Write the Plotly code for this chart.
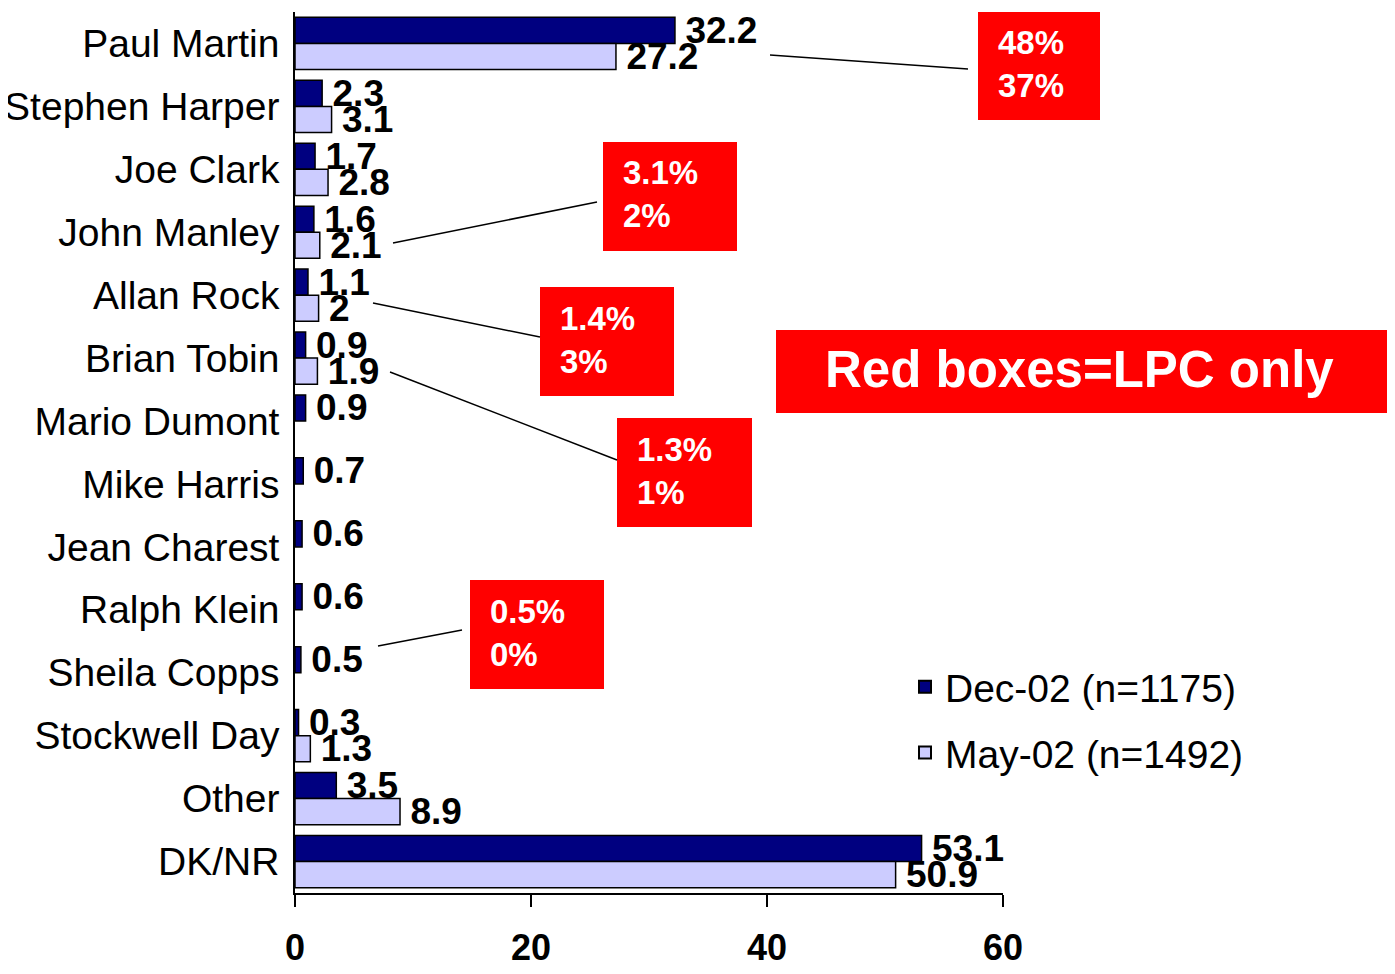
import plotly.graph_objects as go

categories = ["Paul Martin", "Stephen Harper", "Joe Clark", "John Manley", "Allan Rock",
              "Brian Tobin", "Mario Dumont", "Mike Harris", "Jean Charest", "Ralph Klein",
              "Sheila Copps", "Stockwell Day", "Other", "DK/NR"]
dec02 = [32.2, 2.3, 1.7, 1.6, 1.1, 0.9, 0.9, 0.7, 0.6, 0.6, 0.5, 0.3, 3.5, 53.1]
may02 = [27.2, 3.1, 2.8, 2.1, 2.0, 1.9, None, None, None, None, None, 1.3, 8.9, 50.9]
series_names = ["Dec-02 (n=1175)", "May-02 (n=1492)"]
x_ticks = [0, 20, 40, 60]

# LPC-only callouts: text, box (x0, y0, x1, y1 in screen px), connector line (screen px)
lpc_texts = ["48%<br>37%", "3.1%<br>2%", "1.4%<br>3%", "1.3%<br>1%", "0.5%<br>0%"]
lpc_boxes = [(978, 12, 1100, 120), (603, 142, 737, 251), (540, 287, 674, 396),
             (617, 418, 752, 527), (470, 580, 604, 689)]
lpc_lines = [(770, 55, 968, 69), (393, 243, 597, 202), (373, 303, 540, 337),
             (390, 372, 617, 460), (378, 646, 462, 630)]
note_text = "Red boxes=LPC only"
note_box = (776, 330, 1395, 413)

OFF = 8  # page body margin
W, H = 1395 - OFF, 974 - 2 * OFF
L, R, T, B = 295, 1003, 12, 893  # plot area in screen px


def px(x):
    return (x - L) / (R - L)


def py(y):
    return (B - y) / (B - T)


SANS = "Liberation Sans, Arial, sans-serif"


def fmt(v):
    return "" if v is None else "\u2009" + f"{v:g}"


fig = go.Figure()
fig.add_trace(go.Bar(
    y=categories, x=dec02, name=series_names[0], orientation="h", legendgroup="a",
    marker=dict(color="#000080", line=dict(color="black", width=1.5)),
    text=[fmt(v) for v in dec02], textposition="outside", constraintext="none",
    cliponaxis=False, textfont=dict(family=SANS, size=37, color="black", weight="bold"),
))
fig.add_trace(go.Bar(
    y=categories, x=may02, name=series_names[1], orientation="h", legendgroup="b",
    marker=dict(color="#CCCCFF", line=dict(color="black", width=1.5)),
    text=[fmt(v) for v in may02], textposition="outside",
    constraintext="none", cliponaxis=False,
    textfont=dict(family=SANS, size=37, color="black", weight="bold"),
))

shapes = []
annotations = []
for txt, (x0, y0, x1, y1), (lx0, ly0, lx1, ly1) in zip(lpc_texts, lpc_boxes, lpc_lines):
    shapes.append(dict(type="rect", xref="paper", yref="paper", x0=px(x0), x1=px(x1),
                       y0=py(y1), y1=py(y0), fillcolor="#FF0000", line=dict(width=0), layer="above"))
    shapes.append(dict(type="line", xref="paper", yref="paper", x0=px(lx0), y0=py(ly0),
                       x1=px(lx1), y1=py(ly1), line=dict(color="black", width=1.5)))
    annotations.append(dict(xref="paper", yref="paper", x=px(x0 + 18), y=py((y0 + y1) / 2 - 2),
                            xanchor="left", yanchor="middle", align="left", showarrow=False,
                            text=txt, font=dict(family=SANS, size=33, color="white", weight="bold")))

x0, y0, x1, y1 = note_box
shapes.append(dict(type="rect", xref="paper", yref="paper", x0=px(x0), x1=px(x1),
                   y0=py(y1), y1=py(y0), fillcolor="#FF0000", line=dict(width=0), layer="above"))
annotations.append(dict(xref="paper", yref="paper", x=px((x0 + x1) / 2 - 6), y=py((y0 + y1) / 2 - 2),
                        xanchor="center", yanchor="middle", showarrow=False, text=note_text,
                        font=dict(family=SANS, size=51, color="white", weight="bold")))

fig.update_layout(
    width=W, height=H,
    margin=dict(l=L - OFF, r=W - (R - OFF), t=T - OFF, b=H - (B - OFF), pad=0, autoexpand=False),
    plot_bgcolor="white", paper_bgcolor="white",
    barmode="group", bargap=0.17, bargroupgap=0,
    showlegend=True,
    legend=dict(x=px(905), y=py(655), xanchor="left", yanchor="top",
                font=dict(family=SANS, size=39, color="black"),
                bgcolor="rgba(0,0,0,0)", traceorder="grouped", tracegroupgap=12,
                itemsizing="constant"),
    shapes=shapes, annotations=annotations,
    xaxis=dict(range=[0, 60], tickvals=x_ticks, showgrid=False, zeroline=False,
               showline=True, linecolor="black", linewidth=1.5, automargin=False,
               ticks="outside", ticklen=12, tickcolor="black", tickwidth=1.5,
               ticklabelstandoff=10,
               tickfont=dict(family=SANS, size=36, color="black", weight="bold")),
    yaxis=dict(autorange="reversed", showgrid=False, zeroline=False, automargin=False,
               showline=True, linecolor="black", linewidth=1.5, ticks="",
               ticklabelstandoff=6,
               tickfont=dict(family=SANS, size=39, color="black")),
)

fig.write_html("out.html")
